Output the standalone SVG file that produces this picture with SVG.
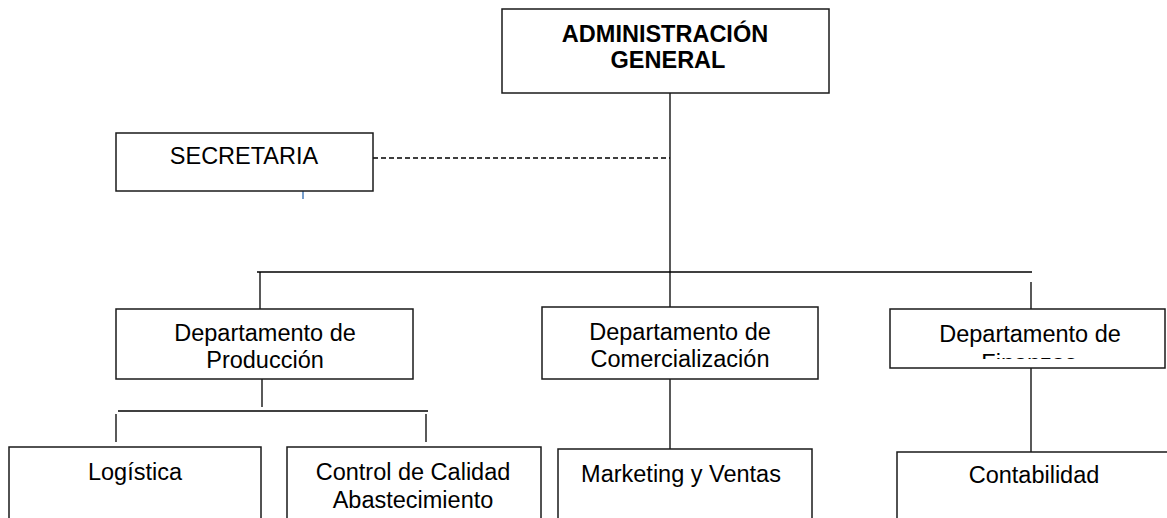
<svg xmlns="http://www.w3.org/2000/svg" width="1167" height="518" viewBox="0 0 1167 518">
<style>
.box{fill:#fff;stroke:#1a1a1a;stroke-width:1.5}
.ln{fill:none;stroke:#000;stroke-width:1.3}
.t{font-family:"Liberation Sans",Arial,sans-serif;font-size:23.5px;fill:#000;text-anchor:middle}
.b{font-weight:bold}
</style>
<defs>
<clipPath id="finClip"><rect x="890" y="309" width="277" height="50"/></clipPath>
</defs>
<rect width="1167" height="518" fill="#fff"/>
<g id="connectors">
<line class="ln" x1="670" y1="93" x2="670" y2="272"/>
<line class="ln" x1="373" y1="158" x2="670" y2="158" stroke-dasharray="5,3"/>
<line x1="303" y1="189" x2="303" y2="199" stroke="#4a7ebb" stroke-width="1.5"/>
<line class="ln" x1="257" y1="272" x2="1032" y2="272"/>
<line class="ln" x1="260" y1="272" x2="260" y2="309"/>
<line class="ln" x1="670" y1="272" x2="670" y2="307"/>
<line class="ln" x1="1031" y1="282" x2="1031" y2="309"/>
<line class="ln" x1="262" y1="375" x2="262" y2="407"/>
<line class="ln" x1="118" y1="411" x2="428" y2="411"/>
<line class="ln" x1="116" y1="414" x2="116" y2="442"/>
<line class="ln" x1="426" y1="414" x2="426" y2="442"/>
<line class="ln" x1="670" y1="379" x2="670" y2="449" stroke-width="2.2"/>
<line class="ln" x1="1031" y1="368" x2="1031" y2="452"/>
</g>
<g id="admin">
<rect class="box" x="502" y="9" width="327" height="84"/>
<text class="t b" x="665" y="42">ADMINISTRACIÓN</text>
<text class="t b" x="668" y="68">GENERAL</text>
</g>
<g id="secretaria">
<rect class="box" x="116" y="133" width="257" height="58"/>
<text class="t" x="244" y="164">SECRETARIA</text>
</g>
<g id="produccion">
<rect class="box" x="116" y="309" width="297" height="70"/>
<text class="t" x="265" y="341">Departamento de</text>
<text class="t" x="265" y="368">Producción</text>
</g>
<g id="comercializacion">
<rect class="box" x="542" y="307" width="276" height="72"/>
<text class="t" x="680" y="340">Departamento de</text>
<text class="t" x="680" y="367">Comercialización</text>
</g>
<g id="finanzas">
<rect class="box" x="890" y="309" width="275" height="59"/>
<text class="t" x="1030" y="342">Departamento de</text>
<text class="t" x="1029" y="371" clip-path="url(#finClip)">Finanzas</text>
</g>
<g id="logistica">
<rect class="box" x="9" y="447" width="252" height="80"/>
<text class="t" x="135" y="480">Logística</text>
</g>
<g id="control">
<rect class="box" x="287" y="447" width="254" height="80"/>
<text class="t" x="413" y="480">Control de Calidad</text>
<text class="t" x="413" y="508">Abastecimiento</text>
</g>
<g id="marketing">
<rect class="box" x="558" y="449" width="254" height="80"/>
<text class="t" x="681" y="482">Marketing y Ventas</text>
</g>
<g id="contabilidad">
<rect class="box" x="897" y="452" width="280" height="80"/>
<text class="t" x="1034" y="483">Contabilidad</text>
</g>
</svg>
